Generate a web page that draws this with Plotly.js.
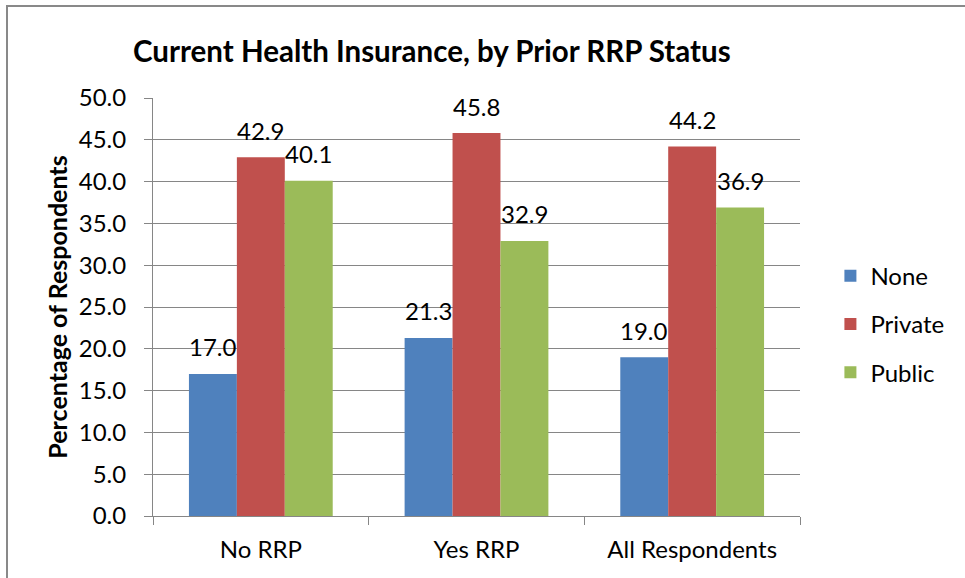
<!DOCTYPE html>
<html>
<head>
<meta charset="utf-8">
<script src="https://cdn.plot.ly/plotly-3.0.1.min.js"></script>
<style>
  html, body { margin: 0; padding: 0; background: #ffffff; }
  #frame { position: absolute; left: 6px; top: 5px; width: 980px; height: 600px;
           border-left: 2px solid #898989; border-top: 2px solid #898989; }
  #chart { position: absolute; left: 0; top: 0; width: 965px; height: 578px; }
</style>
</head>
<body>
<div id="frame"></div>
<div id="chart"></div>
<script>
const categories = ["No RRP", "Yes RRP", "All Respondents"];
const seriesNames = ["None", "Private", "Public"];
const noneValues = [17.0, 21.3, 19.0];
const privateValues = [42.9, 45.8, 44.2];
const publicValues = [40.1, 32.9, 36.9];
const seriesColors = ["#4F81BD", "#C0504D", "#9BBB59"];
const yTicks = [0, 5, 10, 15, 20, 25, 30, 35, 40, 45, 50];

const allValues = [noneValues, privateValues, publicValues];
const FONT = "Lato, 'Open Sans', sans-serif";

const traces = allValues.map((vals, i) => ({
  type: "bar",
  name: seriesNames[i],
  x: categories,
  y: vals,
  legendgroup: "g" + i,
  marker: { color: seriesColors[i], line: { width: 0 } },
  hoverinfo: "none"
}));

// plot area width 647px, 3 categories, bargap 1/3 -> bar width
const barW = 647 / categories.length * (1 - 1 / 3) / seriesNames.length;
const annotations = [];
allValues.forEach((vals, i) => {
  vals.forEach((v, j) => {
    annotations.push({
      x: categories[j], y: v, xref: "x", yref: "y",
      text: v.toFixed(1), showarrow: false,
      xshift: (i - 1) * barW, yshift: 27,
      yanchor: "middle", xanchor: "center",
      font: { family: FONT, size: 24, color: "#000000" }
    });
  });
});

const layout = {
  width: 965, height: 578,
  margin: { l: 153, r: 165, t: 98, b: 62 },
  paper_bgcolor: "rgba(0,0,0,0)",
  plot_bgcolor: "rgba(0,0,0,0)",
  font: { family: FONT, size: 24, color: "#000000" },
  title: {
    text: "<b>Current Health Insurance, by Prior RRP Status</b>",
    font: { family: FONT, size: 29.5, color: "#000000" },
    x: 0.431, xref: "paper", xanchor: "center",
    y: 0.91, yref: "container", yanchor: "middle"
  },
  barmode: "group",
  bargap: 1 / 3,
  bargroupgap: 0,
  showlegend: true,
  legend: {
    x: 1.047, xanchor: "left", y: 0.459, yanchor: "middle",
    font: { family: FONT, size: 24, color: "#000000" },
    tracegroupgap: 14,
    bgcolor: "rgba(0,0,0,0)"
  },
  xaxis: {
    type: "category",
    showline: true, linecolor: "#868686", linewidth: 1,
    ticks: "outside", tickson: "boundaries", ticklen: 8, tickcolor: "#868686",
    showgrid: false, zeroline: false,
    tickfont: { family: FONT, size: 24, color: "#000000" },
    ticklabelstandoff: 12
  },
  yaxis: {
    range: [0, 50],
    tickvals: yTicks,
    ticktext: yTicks.map(v => v.toFixed(1)),
    showline: true, linecolor: "#868686", linewidth: 1,
    ticks: "outside", ticklen: 8, tickcolor: "#868686",
    showgrid: true, gridcolor: "#868686", gridwidth: 1,
    zeroline: false,
    tickfont: { family: FONT, size: 24, color: "#000000" },
    ticklabelstandoff: 13,
    automargin: false,
    title: {
      text: "<b>Percentage of Respondents</b>",
      font: { family: FONT, size: 25, color: "#000000" },
      standoff: 4
    }
  },
  annotations: annotations
};

Plotly.newPlot("chart", traces, layout, { staticPlot: true, displayModeBar: false });
</script>
</body>
</html>
